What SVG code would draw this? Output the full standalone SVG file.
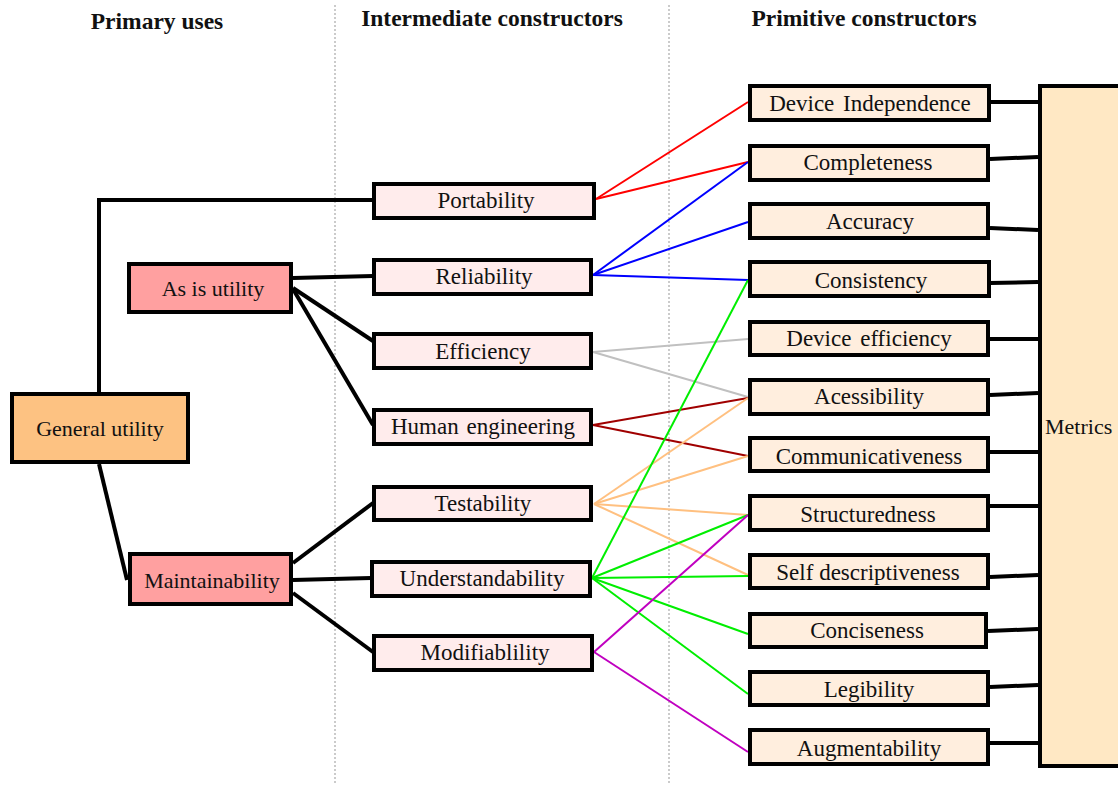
<svg xmlns="http://www.w3.org/2000/svg" width="1118" height="785" viewBox="0 0 1118 785">
<style>
.box{stroke:#000;stroke-width:4}
.top{fill:#FDC282}
.pri{fill:#FFA0A0}
.mid{fill:#FFECEC}
.prim{fill:#FFEEDE}
.met{fill:#FFE8C4}
text{font-family:"Liberation Serif","Times New Roman",serif;font-size:23px;fill:#111}
.lbl{text-anchor:middle}
.big{font-size:22px}
.hdr{font-weight:bold;text-anchor:middle;font-size:23.5px}
.blk{stroke:#000;stroke-width:4;fill:none}
.thin{stroke-width:2;fill:none}
.div{stroke:#bbb;stroke-width:1.5;stroke-dasharray:2 2}
</style>
<rect width="1118" height="785" fill="#fff"/>
<g id="dividers">
<line class="div" x1="335" y1="5" x2="335" y2="785"/>
<line class="div" x1="669" y1="5" x2="669" y2="785"/>
</g>
<g id="headers">
<text class="hdr" x="157" y="29">Primary uses</text>
<text class="hdr" x="492" y="26">Intermediate constructors</text>
<text class="hdr" x="864" y="26">Primitive constructors</text>
</g>
<g id="connectors">
<polyline class="blk" points="99,392 99,200 373,200"/>
<line class="blk" x1="99" y1="464" x2="127" y2="580"/>
<line class="blk" x1="293" y1="278" x2="373" y2="276"/>
<line class="blk" x1="293" y1="288" x2="373" y2="341"/>
<line class="blk" x1="293" y1="289" x2="373" y2="425"/>
<line class="blk" x1="293" y1="563" x2="373" y2="503"/>
<line class="blk" x1="293" y1="580" x2="371" y2="578"/>
<line class="blk" x1="293" y1="593" x2="373" y2="652"/>
<g stroke="#FF0000" class="thin">
<line x1="596" y1="199" x2="748" y2="102"/>
<line x1="596" y1="199" x2="748" y2="162"/>
</g>
<g stroke="#0000FF" class="thin">
<line x1="593" y1="275" x2="748" y2="162"/>
<line x1="593" y1="275" x2="748" y2="222"/>
<line x1="593" y1="275" x2="748" y2="280"/>
</g>
<g stroke="#C0C0C0" class="thin">
<line x1="593" y1="352" x2="748" y2="339"/>
<line x1="593" y1="352" x2="748" y2="397"/>
</g>
<g stroke="#A00000" class="thin">
<line x1="593" y1="425" x2="748" y2="398"/>
<line x1="593" y1="425" x2="748" y2="456"/>
</g>
<g stroke="#FFC080" class="thin">
<line x1="594" y1="504" x2="748" y2="398"/>
<line x1="594" y1="504" x2="748" y2="456"/>
<line x1="594" y1="504" x2="748" y2="515"/>
<line x1="594" y1="504" x2="748" y2="575"/>
</g>
<g stroke="#00EE00" class="thin">
<line x1="592" y1="578" x2="748" y2="280"/>
<line x1="592" y1="578" x2="748" y2="515"/>
<line x1="592" y1="578" x2="748" y2="576"/>
<line x1="592" y1="578" x2="748" y2="634"/>
<line x1="592" y1="578" x2="748" y2="694"/>
</g>
<g stroke="#C000C0" class="thin">
<line x1="594" y1="652" x2="748" y2="515"/>
<line x1="594" y1="652" x2="748" y2="752"/>
</g>
<line class="blk" x1="990" y1="102" x2="1038" y2="102"/>
<line class="blk" x1="990" y1="159" x2="1038" y2="157"/>
<line class="blk" x1="990" y1="228" x2="1038" y2="230"/>
<line class="blk" x1="990" y1="283" x2="1038" y2="282"/>
<line class="blk" x1="990" y1="339" x2="1038" y2="339"/>
<line class="blk" x1="990" y1="395" x2="1038" y2="393"/>
<line class="blk" x1="990" y1="452" x2="1038" y2="452"/>
<line class="blk" x1="990" y1="506" x2="1038" y2="506"/>
<line class="blk" x1="990" y1="577" x2="1038" y2="575"/>
<line class="blk" x1="988" y1="631" x2="1038" y2="629"/>
<line class="blk" x1="990" y1="687" x2="1038" y2="685"/>
<line class="blk" x1="990" y1="743" x2="1038" y2="743"/>
</g>
<g id="general-utility"><rect class="box top" x="12" y="394" width="176" height="68"/><text class="lbl big" x="100" y="436">General utility</text></g>
<g id="as-is-utility"><rect class="box pri" x="129" y="264" width="162" height="48"/><text class="lbl big" x="213" y="296">As is utility</text></g>
<g id="maintainability"><rect class="box pri" x="130" y="554" width="161" height="50"/><text class="lbl big" x="212" y="588">Maintainability</text></g>
<g id="portability"><rect class="box mid" x="374" y="184" width="220" height="34"/><text class="lbl" x="486" y="208">Portability</text></g>
<g id="reliability"><rect class="box mid" x="374" y="260" width="217" height="34"/><text class="lbl" x="484" y="284">Reliability</text></g>
<g id="efficiency"><rect class="box mid" x="374" y="334" width="217" height="34"/><text class="lbl" x="483" y="359">Efficiency</text></g>
<g id="human-engineering"><rect class="box mid" x="374" y="410" width="217" height="34"/><text class="lbl" x="483" y="434" word-spacing="2">Human engineering</text></g>
<g id="testability"><rect class="box mid" x="374" y="487" width="217" height="33"/><text class="lbl" x="483" y="511">Testability</text></g>
<g id="understandability"><rect class="box mid" x="372" y="562" width="218" height="34"/><text class="lbl" x="482" y="586">Understandability</text></g>
<g id="modifiablility"><rect class="box mid" x="374" y="636" width="218" height="34"/><text class="lbl" x="485" y="660">Modifiablility</text></g>
<g id="device-independence"><rect class="box prim" x="750" y="86" width="239" height="34"/><text class="lbl" x="870" y="111" word-spacing="3">Device Independence</text></g>
<g id="completeness"><rect class="box prim" x="750" y="146" width="238" height="34"/><text class="lbl" x="868" y="170">Completeness</text></g>
<g id="accuracy"><rect class="box prim" x="750" y="204" width="238" height="34"/><text class="lbl" x="870" y="229">Accuracy</text></g>
<g id="consistency"><rect class="box prim" x="750" y="262" width="239" height="34"/><text class="lbl" x="871" y="288">Consistency</text></g>
<g id="device-efficiency"><rect class="box prim" x="750" y="322" width="238" height="33"/><text class="lbl" x="869" y="346" word-spacing="3">Device efficiency</text></g>
<g id="acessibility"><rect class="box prim" x="750" y="380" width="238" height="34"/><text class="lbl" x="869" y="404">Acessibility</text></g>
<g id="communicativeness"><rect class="box prim" x="750" y="438" width="238" height="33"/><text class="lbl" x="869" y="464">Communicativeness</text></g>
<g id="structuredness"><rect class="box prim" x="750" y="496" width="238" height="34"/><text class="lbl" x="868" y="522">Structuredness</text></g>
<g id="self-descriptiveness"><rect class="box prim" x="750" y="555" width="238" height="33"/><text class="lbl" x="868" y="580">Self descriptiveness</text></g>
<g id="conciseness"><rect class="box prim" x="750" y="614" width="236" height="33"/><text class="lbl" x="867" y="638">Conciseness</text></g>
<g id="legibility"><rect class="box prim" x="750" y="672" width="238" height="33"/><text class="lbl" x="869" y="697">Legibility</text></g>
<g id="augmentability"><rect class="box prim" x="750" y="730" width="238" height="34"/><text class="lbl" x="869" y="756">Augmentability</text></g>
<g id="metrics"><rect class="box met" x="1040" y="86" width="100" height="680"/><text class="big" x="1045" y="434">Metrics</text></g>
</svg>
